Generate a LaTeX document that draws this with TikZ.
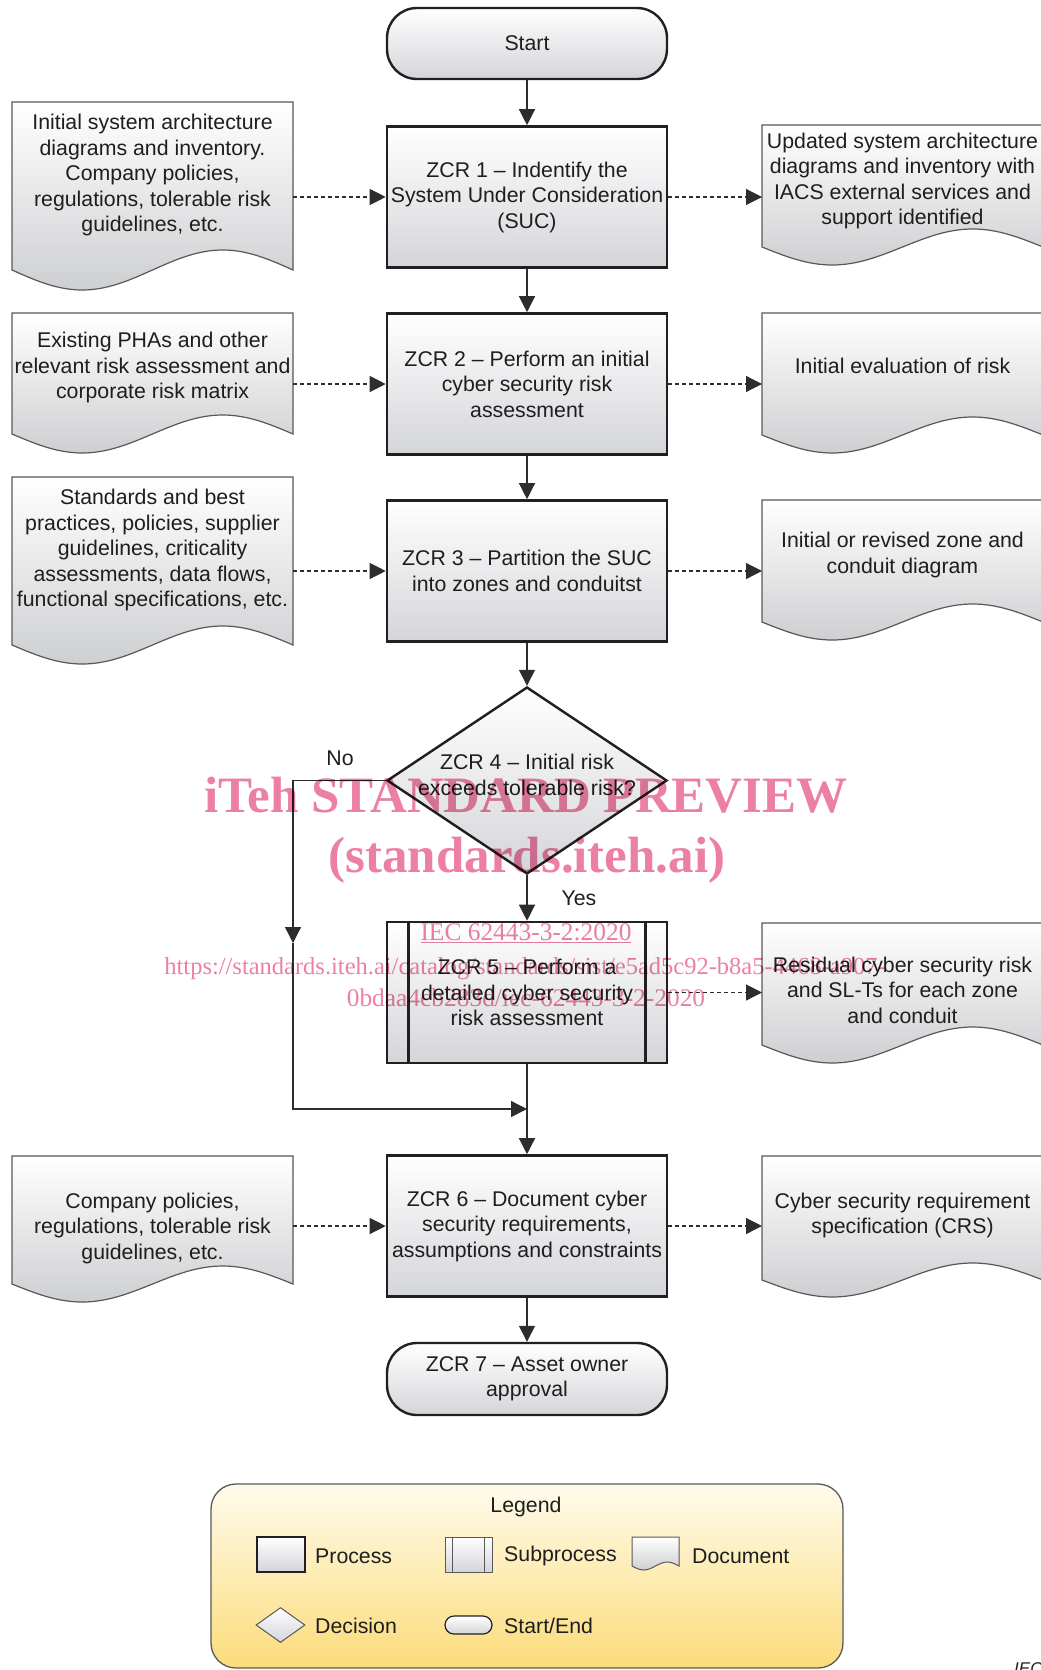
\documentclass[tikz,border=0pt]{standalone}
\usepackage{fontspec}
\setmainfont{Liberation Sans}
\newfontfamily\wmfont{Liberation Serif}
\usetikzlibrary{shapes.geometric,arrows.meta}
\definecolor{boxline}{RGB}{35,31,32}
\definecolor{linecol}{RGB}{45,45,45}
\definecolor{docline}{RGB}{88,88,90}
\definecolor{procbot}{RGB}{212,213,217}
\definecolor{docbot}{RGB}{206,207,209}
\definecolor{legtop}{RGB}{255,251,236}
\definecolor{legbot}{RGB}{251,220,122}
\definecolor{wmpink}{RGB}{236,128,162}
\definecolor{txtcol}{RGB}{30,30,30}

\newcommand{\mainsz}{\fontsize{21.3pt}{25.5pt}\selectfont}
\newcommand{\wmbig}{\wmfont\bfseries\fontsize{51pt}{56pt}\selectfont}
\newcommand{\wmsmall}{\wmfont\fontsize{25.4pt}{30pt}\selectfont}
\newcommand{\wmurl}{\wmfont\fontsize{24.5pt}{30pt}\selectfont}

% name, left x, top y, side-end y, amplitude, text y, text
\newcommand{\docshape}[7]{%
  \path[docstyle] (#2,#3) -- ({#2+281},#3) -- ({#2+281},#4)
     sin ({#2+210.75},{#4-#5}) cos ({#2+140.5},#4)
     sin ({#2+70.25},{#4+#5}) cos (#2,#4) -- cycle;
  \node[inner sep=0pt, outer sep=0pt, minimum width=281pt,
        minimum height={(#4+#5-#3)*1pt}] (#1) at ({#2+140.5},{(#3+#4+#5)/2}) {};
  \node[txt] (#1t) at ({#2+140.5},{#6+2}) {#7};
}

\begin{document}
\begin{tikzpicture}[x=1pt,y=-1pt,
  txt/.style={font=\mainsz, align=center, text=txtcol, inner sep=0pt},
  proc/.style={draw=boxline, line width=2.6pt, top color=white, bottom color=procbot,
     minimum width=280pt, minimum height=141pt, inner sep=0pt,
     font=\mainsz, align=center, text=txtcol},
  term/.style={proc, line width=2.4pt, rounded corners=30pt, minimum height=71pt},
  docstyle/.style={draw=docline, line width=1.2pt, top color=white, bottom color=docbot},
  flow/.style={draw=linecol, line width=1.3pt, -{Triangle[width=16pt,length=16pt]}},
  dflow/.style={flow, dash pattern=on 4pt off 3pt, line width=1.2pt},
  wm/.style={text=wmpink, inner sep=0pt, anchor=base},
]
\useasboundingbox (0,0) rectangle (1041,1670);
\begin{scope}
\clip (0,0) rectangle (1041,1670);

% main column
\node[term] (start) at (527,43.5) {Start};
\node[proc] (z1) at (527,197) {ZCR 1 – Indentify the\\System Under Consideration\\(SUC)};
\node[proc] (z2) at (527,384) {ZCR 2 – Perform an initial\\cyber security risk\\assessment};
\node[proc] (z3) at (527,571) {ZCR 3 – Partition the SUC\\into zones and conduitst};
\node[diamond, draw=boxline, line width=2.4pt, top color=white, bottom color=procbot,
      minimum width=280pt, minimum height=187pt, inner sep=0pt, aspect=1.5] (dec) at (527,780.5) {};
\node[txt] (dect) at (527,775) {ZCR 4 – Initial risk\\exceeds tolerable risk?};
\node[proc] (z5) at (527,992.5) {ZCR 5 – Perform a\\detailed cyber security\\risk assessment};
\draw[draw=boxline, line width=2.6pt] ([xshift=23pt]z5.north west) -- ([xshift=23pt]z5.south west);
\draw[draw=boxline, line width=2.6pt] ([xshift=-23pt]z5.north east) -- ([xshift=-23pt]z5.south east);
\node[proc] (z6) at (527,1226) {ZCR 6 – Document cyber\\security requirements,\\assumptions and constraints};
\node[term, minimum height=72pt] (z7) at (527,1379) {ZCR 7 – Asset owner\\approval};

% documents
\docshape{l1}{12}{102}{270}{20}{173}{Initial system architecture\\diagrams and inventory.\\Company policies,\\regulations, tolerable risk\\guidelines, etc.}
\docshape{r1}{762}{125}{247}{18}{179}{Updated system architecture\\diagrams and inventory with\\IACS external services and\\support identified}
\docshape{l2}{12}{313}{434}{19}{365.5}{Existing PHAs and other\\relevant risk assessment and\\corporate risk matrix}
\docshape{r2}{762}{313}{435}{18}{364}{Initial evaluation of risk}
\docshape{l3}{12}{477}{645}{19}{548}{Standards and best\\practices, policies, supplier\\guidelines, criticality\\assessments, data flows,\\functional specifications, etc.}
\docshape{r3}{762}{500}{622}{18}{553}{Initial or revised zone and\\conduit diagram}
\docshape{r5}{762}{923}{1045}{18}{988}{Residual cyber security risk\\and SL-Ts for each zone\\and conduit}
\docshape{l6}{12}{1156}{1284}{18}{1226}{Company policies,\\regulations, tolerable risk\\guidelines, etc.}
\docshape{r6}{762}{1156}{1280}{17}{1213.5}{Cyber security requirement\\specification (CRS)}

% flow connectors
\draw[flow] (start.south) -- (z1.north);
\draw[flow] (z1.south) -- (z2.north);
\draw[flow] (z2.south) -- (z3.north);
\draw[flow] (z3.south) -- (dec.north);
\draw[flow] (dec.south) -- (z5.north);
\draw[flow] (z5.south) -- (z6.north);
\draw[flow] (z6.south) -- (z7.north);
\coordinate (nomid) at (293,943);
\coordinate (merge) at (527,1109);
\draw[flow] (dec.west) -| (nomid);
\draw[flow] (nomid) |- (merge);
\node[txt] (nolbl) at (340,758) {No};
\node[txt] (yeslbl) at (579,898) {Yes};

% document connectors
\draw[dflow] (z1.west -| l1.east) -- (z1.west);
\draw[dflow] (z1.east) -- (z1.east -| r1.west);
\draw[dflow] (z2.west -| l2.east) -- (z2.west);
\draw[dflow] (z2.east) -- (z2.east -| r2.west);
\draw[dflow] (z3.west -| l3.east) -- (z3.west);
\draw[dflow] (z3.east) -- (z3.east -| r3.west);
\draw[dflow] (z5.east) -- (z5.east -| r5.west);
\draw[dflow] (z6.west -| l6.east) -- (z6.west);
\draw[dflow] (z6.east) -- (z6.east -| r6.west);

% legend
\node[draw=docline, line width=1.3pt, rounded corners=25pt, top color=legtop, bottom color=legbot,
      minimum width=632pt, minimum height=184pt, inner sep=0pt] (leg) at (527,1576) {};
\node[txt] (legt) at (526,1507) {Legend};
\node[draw=boxline, line width=1.3pt, top color=white, bottom color=procbot,
      minimum width=48pt, minimum height=35pt, inner sep=0pt] (lgproc) at (281,1554.5) {};
\node[txt, anchor=west] (lgproct) at (315,1556) {Process};
\node[draw=docline, line width=1pt, top color=white, bottom color=procbot,
      minimum width=47pt, minimum height=35pt, inner sep=0pt] (lgsub) at (468.5,1554.5) {};
\draw[docline, line width=1pt] ([xshift=8pt]lgsub.north west) -- ([xshift=8pt]lgsub.south west);
\draw[docline, line width=1pt] ([xshift=-8pt]lgsub.north east) -- ([xshift=-8pt]lgsub.south east);
\node[txt, anchor=west] (lgsubt) at (504,1556) {Subprocess};
\path[docstyle, line width=1pt] (632,1537) -- (679,1537) -- (679,1566) sin (667.25,1562) cos (655.5,1566)
     sin (643.75,1570) cos (632,1566) -- cycle;
\node[txt, anchor=west] (lgdoct) at (692,1556) {Document};
\node[diamond, draw=docline, line width=1pt, top color=white, bottom color=procbot,
      minimum width=49pt, minimum height=35pt, inner sep=0pt, aspect=1.4] (lgdec) at (280.5,1625) {};
\node[txt, anchor=west] (lgdect) at (315,1626) {Decision};
\node[draw=boxline, line width=1.2pt, rounded corners=9pt, top color=white, bottom color=procbot,
      minimum width=47pt, minimum height=18pt, inner sep=0pt] (lgterm) at (468.5,1625) {};
\node[txt, anchor=west] (lgtermt) at (504,1626) {Start/End};

\node[font=\itshape\fontsize{17pt}{20pt}\selectfont, anchor=north west, inner sep=0pt, text=txtcol] (ieclbl) at (1014,1662) {IEC};

% watermark
\begin{scope}[blend mode=multiply]
\node[wm, font=\wmbig] (wm1) at (526,812) {iTeh STANDARD PREVIEW};
\node[wm, font=\wmbig] (wm2) at (527,872) {(standards.iteh.ai)};
\node[wm, font=\wmsmall] (wm3) at (526,940) {\underline{IEC 62443-3-2:2020}};
\node[wm, font=\wmurl] (wm4) at (525,974) {https://standards.iteh.ai/catalog/standards/sist/e5ad5c92-b8a5-4468-a907-};
\node[wm, font=\wmsmall] (wm5) at (526,1006) {0bdaa4cb283d/iec-62443-3-2-2020};
\end{scope}
\end{scope}
\end{tikzpicture}
\end{document}
